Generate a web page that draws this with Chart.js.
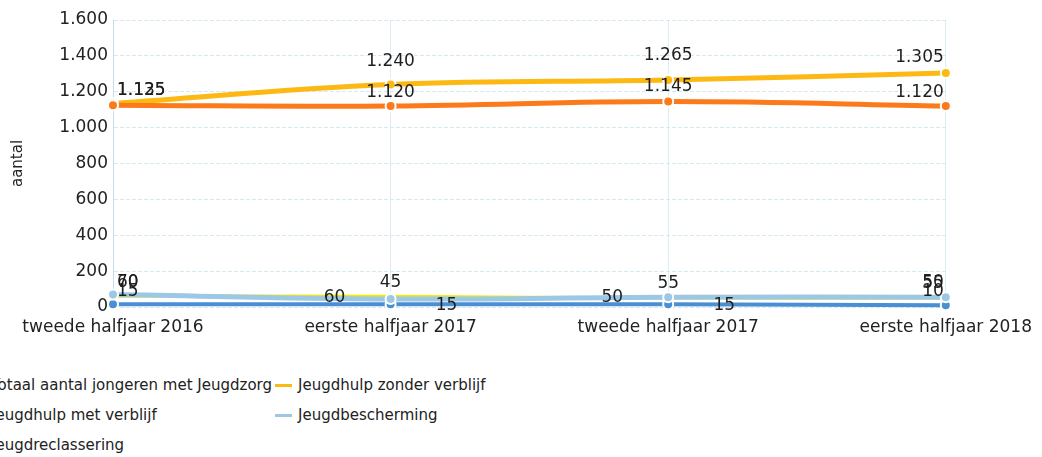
<!DOCTYPE html>
<html><head><meta charset="utf-8">
<script src="https://cdn.jsdelivr.net/npm/chart.js@4/dist/chart.umd.min.js"></script>
<style>
html,body{margin:0;padding:0;background:#fff;overflow:hidden;}
#wrap{position:relative;width:1042px;height:457px;overflow:hidden;}
#c{position:absolute;left:0;top:0;}
#legend{position:absolute;left:-32px;top:370px;display:grid;grid-template-columns:307px 307px;font:15px "DejaVu Sans";color:#222;}
.item{display:flex;align-items:center;height:30px;white-space:nowrap;}
.mk{width:17px;height:3px;margin-right:6px;flex:none;}
</style></head>
<body><div id="wrap"><canvas id="c" width="1042" height="345" style="width:1042px;height:345px"></canvas><div id="legend"></div></div>
<script>
const categories = ['tweede halfjaar 2016', 'eerste halfjaar 2017', 'tweede halfjaar 2017', 'eerste halfjaar 2018'];
const seriesNames = ['Totaal aantal jongeren met Jeugdzorg', 'Jeugdhulp zonder verblijf', 'Jeugdhulp met verblijf', 'Jeugdbescherming', 'Jeugdreclassering'];
const totaal = [1125, 1120, 1145, 1120];
const zonderVerblijf = [1135, 1240, 1265, 1305];
const metVerblijf = [60, 60, 50, 50];
const jeugdbescherming = [70, 45, 55, 55];
const jeugdreclassering = [15, 15, 15, 10];
const yTickValues = [0, 200, 400, 600, 800, 1000, 1200, 1400, 1600];

const fmt = v => String(v).replace(/\B(?=(\d{3})+(?!\d))/g, '.');

function ds(label, data, color, width, labelPos, pr, order) {
  return {
    label, data, borderColor: color, backgroundColor: color,
    borderWidth: width, tension: 0.4, clip: false, order,
    pointRadius: pr, pointHoverRadius: pr, pointBackgroundColor: color,
    pointBorderColor: '#ffffff', pointBorderWidth: 2,
    labelPos
  };
}

const datasets = [
  ds(seriesNames[0], totaal, '#fb7a1b', 5, [[0,-15],[0,-14],[0,-15],[0,-14]], 5, 0),
  ds(seriesNames[1], zonderVerblijf, '#fdb913', 5, [[0,-13],[0,-23],[0,-25],[0,-15]], 5, 0),
  ds(seriesNames[2], metVerblijf, '#f2ea00', 3, [[0,-14],[-56,1],[-56,0],[0,-15]], 4, 1),
  ds(seriesNames[3], jeugdbescherming, '#9cc8e6', 5, [[0,-12],[0,-16],[0,-14],[0,-14]], 5, 0),
  ds(seriesNames[4], jeugdreclassering, '#4a8fd3', 4, [[0,-13],[56,1],[56,1],[0,-14]], 5, 0)
];

const valueLabels = {
  id: 'valueLabels',
  afterDatasetsDraw(chart) {
    const {ctx, chartArea: a} = chart;
    ctx.save();
    ctx.font = '17px "DejaVu Sans"';
    ctx.fillStyle = '#1e1e1e';
    ctx.textAlign = 'center';
    ctx.textBaseline = 'middle';
    chart.data.datasets.forEach((d, i) => {
      const meta = chart.getDatasetMeta(i);
      meta.data.forEach((pt, j) => {
        const txt = fmt(d.data[j]);
        const w = ctx.measureText(txt).width;
        const lp = d.labelPos[j];
        let x = pt.x + lp[0];
        x = Math.max(a.left + 4 + w / 2, Math.min(a.right - 2 - w / 2, x));
        ctx.fillText(txt, x, pt.y + lp[1]);
      });
    });
    ctx.restore();
  }
};

const chart = new Chart(document.getElementById('c'), {
  type: 'line',
  data: { labels: categories, datasets },
  plugins: [valueLabels],
  options: {
    responsive: false, animation: false, devicePixelRatio: 1,
    layout: { padding: { top: 20, right: 89, bottom: 0, left: 0 } },
    plugins: { legend: { display: false }, tooltip: { enabled: false } },
    scales: {
      x: {
        offset: false,
        afterFit: s => { s.height = 38; },
        grid: { color: '#dcedf4', lineWidth: 1, drawTicks: false },
        border: { display: false },
        ticks: { padding: 10, color: '#222', font: { family: 'DejaVu Sans', size: 17 }, maxRotation: 0, autoSkip: false }
      },
      y: {
        min: 0, max: 1600,
        afterFit: s => { s.width = 113; },
        afterBuildTicks: s => { s.ticks = Array.from({length: 17}, (_, k) => ({ value: k * 100 })); },
        grid: { color: '#d3eaf2', lineWidth: 1, drawTicks: false },
        border: { display: true, color: '#c4dfea', width: 1, dash: [4, 2] },
        ticks: {
          padding: 5, color: '#222', font: { family: 'DejaVu Sans', size: 17 },
          callback: v => yTickValues.includes(v) ? fmt(v) : ''
        },
        title: { display: true, text: 'aantal', color: '#222', font: { family: 'DejaVu Sans', size: 15 }, padding: { top: 9, bottom: 0 } }
      }
    }
  }
});

const legend = document.getElementById('legend');
datasets.forEach(d => {
  const it = document.createElement('div');
  it.className = 'item';
  const mk = document.createElement('span');
  mk.className = 'mk';
  mk.style.background = d.borderColor;
  const tx = document.createElement('span');
  tx.textContent = d.label;
  it.appendChild(mk); it.appendChild(tx);
  legend.appendChild(it);
});
</script>
</body></html>
